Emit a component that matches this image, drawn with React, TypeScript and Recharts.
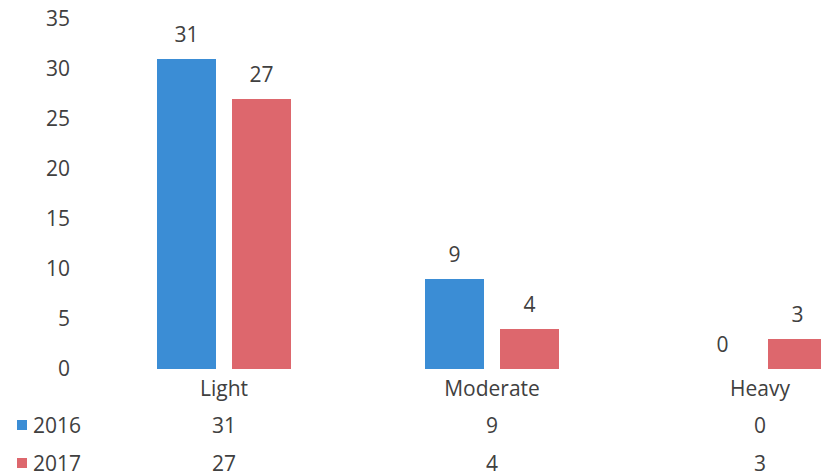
import { BarChart, Bar, XAxis, YAxis } from "recharts";

const categories = ["Light", "Moderate", "Heavy"];
const values2016 = [31, 9, 0];
const values2017 = [27, 4, 3];
const yTicks = [0, 5, 10, 15, 20, 25, 30, 35];

const BLUE = "#3b8dd5";
const RED = "#dd676d";
const TEXT = "#404040";
const FONT = "'Open Sans', sans-serif";
const SIZE = 21;

const data = categories.map((name, i) => ({
  name,
  y2016: values2016[i],
  y2017: values2017[i],
}));

// category label plus the data table rows underneath
function TableTick({ x, y, payload, index }: any) {
  return (
    <g fill={TEXT} fontFamily={FONT} fontSize={SIZE} textAnchor="middle">
      <text x={x} y={y + 11} dominantBaseline="central">
        {payload.value}
      </text>
      <text x={x} y={y + 48} dominantBaseline="central">
        {values2016[index]}
      </text>
      <text x={x} y={y + 86} dominantBaseline="central">
        {values2017[index]}
      </text>
    </g>
  );
}

// value label above the bar, also drawn for zero-height bars
function ValueLabel({ x, y, width, value }: any) {
  return (
    <text
      x={x + width / 2}
      y={y - 25}
      fill={TEXT}
      fontFamily={FONT}
      fontSize={SIZE}
      textAnchor="middle"
      dominantBaseline="central"
    >
      {value}
    </text>
  );
}

function LegendRow({ color, label, top }: { color: string; label: string; top: number }) {
  return (
    <div
      style={{
        position: "absolute",
        left: 17,
        top,
        display: "flex",
        alignItems: "center",
        fontFamily: FONT,
        fontSize: SIZE,
        color: TEXT,
        lineHeight: "24px",
      }}
    >
      <span style={{ width: 10, height: 10, background: color, marginRight: 6 }} />
      {label}
    </div>
  );
}

export default function App() {
  return (
    <div
      style={{
        position: "fixed",
        left: 0,
        top: 0,
        width: 821,
        height: 476,
        overflow: "hidden",
        background: "#fff",
      }}
    >
      <BarChart
        width={900}
        height={476}
        data={data}
        margin={{ top: 19, right: 6, bottom: 0, left: 0 }}
        barSize={59}
        barGap={16}
      >
        <XAxis
          dataKey="name"
          axisLine={false}
          tickLine={false}
          height={107}
          interval={0}
          tick={<TableTick />}
        />
        <YAxis
          domain={[0, 35]}
          ticks={yTicks}
          width={90}
          axisLine={false}
          tickLine={false}
          tickMargin={14}
          tick={{ fill: TEXT, fontFamily: FONT, fontSize: SIZE }}
        />
        <Bar
          dataKey="y2016"
          fill={BLUE}
          minPointSize={0.01}
          isAnimationActive={false}
          label={<ValueLabel />}
        />
        <Bar
          dataKey="y2017"
          fill={RED}
          minPointSize={0.01}
          isAnimationActive={false}
          label={<ValueLabel />}
        />
      </BarChart>
      <LegendRow color={BLUE} label="2016" top={413} />
      <LegendRow color={RED} label="2017" top={451} />
    </div>
  );
}
